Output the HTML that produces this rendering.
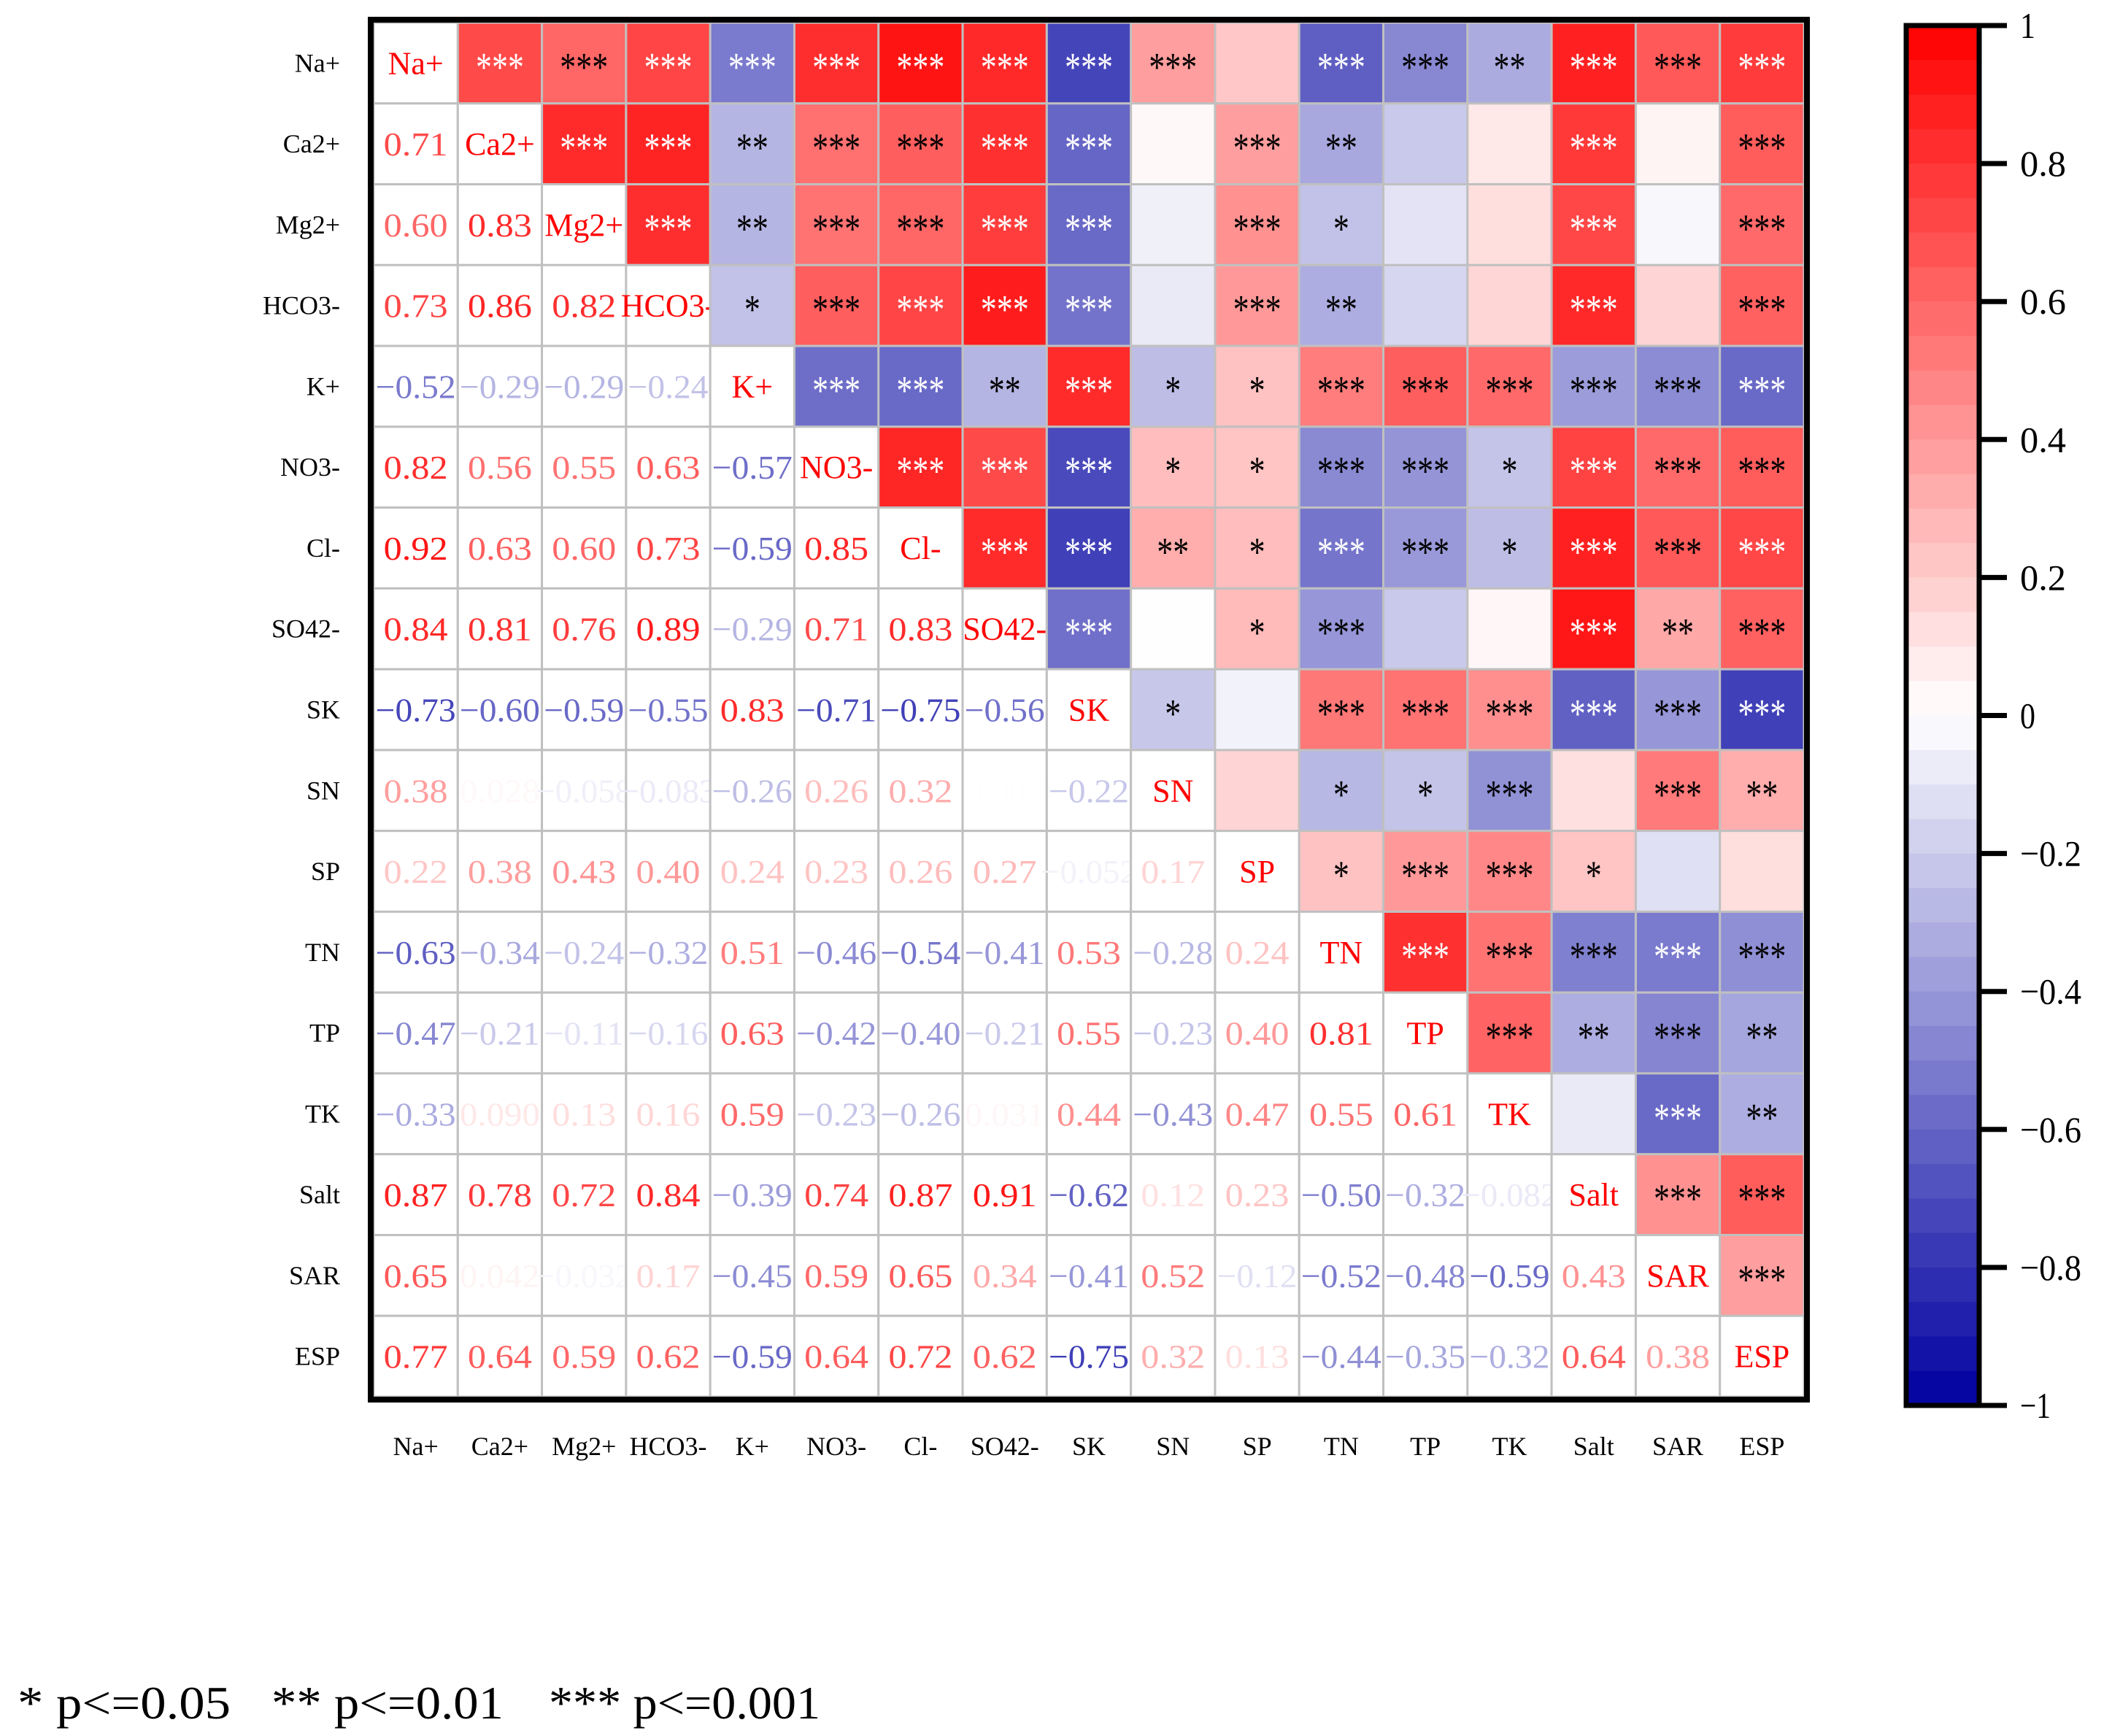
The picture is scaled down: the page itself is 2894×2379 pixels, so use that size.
<!DOCTYPE html>
<html><head><meta charset="utf-8"><style>
html,body{margin:0;padding:0;background:#fff;}
svg{display:block;}
text{font-family:"Liberation Serif","Noto Serif CJK SC",serif;}
</style></head><body>
<svg id="chart" width="2894" height="2379" viewBox="0 0 2894 2379" xmlns="http://www.w3.org/2000/svg">
<g id="cells"></g>
<g id="labels"></g>
<rect x="508" y="27" width="1968" height="1891" fill="none" stroke="#000" stroke-width="8"/>
<g id="cbar"></g>
<g>
<text x="24" y="2355" font-size="64" textLength="292" lengthAdjust="spacingAndGlyphs">* p&lt;=0.05</text>
<text x="372" y="2355" font-size="64" textLength="318" lengthAdjust="spacingAndGlyphs">** p&lt;=0.01</text>
<text x="752" y="2355" font-size="64" textLength="372" lengthAdjust="spacingAndGlyphs">*** p&lt;=0.001</text>
</g>
</svg>
<script>
const categories = ["Na+","Ca2+","Mg2+","HCO3-","K+","NO3-","Cl-","SO42-","SK","SN","SP","TN","TP","TK","Salt","SAR","ESP"];
const lowerValues = [
 [],
 [0.71],
 [0.60,0.83],
 [0.73,0.86,0.82],
 [-0.52,-0.29,-0.29,-0.24],
 [0.82,0.56,0.55,0.63,-0.57],
 [0.92,0.63,0.60,0.73,-0.59,0.85],
 [0.84,0.81,0.76,0.89,-0.29,0.71,0.83],
 [-0.73,-0.60,-0.59,-0.55,0.83,-0.71,-0.75,-0.56],
 [0.38,0.028,-0.058,-0.083,-0.26,0.26,0.32,0.004,-0.22],
 [0.22,0.38,0.43,0.40,0.24,0.23,0.26,0.27,-0.052,0.17],
 [-0.63,-0.34,-0.24,-0.32,0.51,-0.46,-0.54,-0.41,0.53,-0.28,0.24],
 [-0.47,-0.21,-0.11,-0.16,0.63,-0.42,-0.40,-0.21,0.55,-0.23,0.40,0.81],
 [-0.33,0.090,0.13,0.16,0.59,-0.23,-0.26,0.031,0.44,-0.43,0.47,0.55,0.61],
 [0.87,0.78,0.72,0.84,-0.39,0.74,0.87,0.91,-0.62,0.12,0.23,-0.50,-0.32,-0.082],
 [0.65,0.042,-0.032,0.17,-0.45,0.59,0.65,0.34,-0.41,0.52,-0.12,-0.52,-0.48,-0.59,0.43],
 [0.77,0.64,0.59,0.62,-0.59,0.64,0.72,0.62,-0.75,0.32,0.13,-0.44,-0.35,-0.32,0.64,0.38]
];
const upperStars = [
 ["***","***","***","***","***","***","***","***","***","","***","***","**","***","***","***"],
 ["***","***","**","***","***","***","***","","***","**","","","***","","***"],
 ["***","**","***","***","***","***","","***","*","","","***","","***"],
 ["*","***","***","***","***","","***","**","","","***","","***"],
 ["***","***","**","***","*","*","***","***","***","***","***","***"],
 ["***","***","***","*","*","***","***","*","***","***","***"],
 ["***","***","**","*","***","***","*","***","***","***"],
 ["***","","*","***","","","***","**","***"],
 ["*","","***","***","***","***","***","***"],
 ["","*","*","***","","***","**"],
 ["*","***","***","*","",""],
 ["***","***","***","***","***"],
 ["***","**","***","**"],
 ["","***","**"],
 ["***","***"],
 ["***"],
 []
];
const cbarTicks = [1,0.8,0.6,0.4,0.2,0,-0.2,-0.4,-0.6,-0.8,-1];
const cbarTickLabels = ["1","0.8","0.6","0.4","0.2","0","\u22120.2","\u22120.4","\u22120.6","\u22120.8","\u22121"];

const NS="http://www.w3.org/2000/svg";
const X0=512, Y0=31, CW=1960/17, CH=1883/17;
const xPos=j=>X0+j*CW, yPos=i=>Y0+i*CH;
function corr(i,j){ if(i===j) return 1; return i>j ? lowerValues[i][j] : lowerValues[j][i]; }
function color(v){
  let r,g,b;
  if(v>=0){ r=255; g=Math.round(255*(1-v)); b=g; }
  else { const t=-v; r=Math.round(255*(1-t)); g=r; b=Math.round(255-95*t); }
  return `rgb(${r},${g},${b})`;
}
function fmt(v){
  const a=Math.abs(v); const s = a<0.1 ? a.toFixed(3) : a.toFixed(2);
  return (v<0?"\u2212":"")+s;
}
function mk(tag,attrs,parent){const e=document.createElementNS(NS,tag);for(const k in attrs)e.setAttribute(k,attrs[k]);parent.appendChild(e);return e;}
const cells=document.getElementById('cells');
const labels=document.getElementById('labels');
const n=categories.length;
for(let i=0;i<n;i++){
  for(let j=0;j<n;j++){
    const v=corr(i,j);
    const r=mk('rect',{x:xPos(j),y:yPos(i),width:CW,height:CH,fill:(j>i)?color(v):'#fff',stroke:'#c0c0c0','stroke-width':3},cells);
    
    
    const cx=xPos(j)+CW/2, cy=yPos(i)+CH/2;
    if(i===j){
      const t=mk('text',{x:cx,y:cy+15,'text-anchor':'middle','font-size':44,fill:'#ff0000'},cells);
      t.textContent=categories[i];
      
      
    } else if(i>j){
      const s=fmt(v);
      const t=mk('text',{x:cx,y:cy+16,'text-anchor':'middle','font-size':46,fill:color(v),textLength:s.length*22,lengthAdjust:'spacingAndGlyphs'},cells);
      t.textContent=s;
      
      
    } else {
      const st=upperStars[i][j-i-1];
      if(st){
        const white = v>0.68 || v<-0.515;
        const t=mk('text',{x:cx,y:cy+24,'text-anchor':'middle','font-size':56,fill:white?'#fff':'#000',textLength:st.length*22,lengthAdjust:'spacingAndGlyphs'},cells);
        t.textContent=st;
        
        
      }
    }
  }
  const yl=mk('text',{x:466,y:yPos(i)+CH/2+12,'text-anchor':'end','font-size':36},labels);
  yl.textContent=categories[i];
  
  
  const xl=mk('text',{x:xPos(i)+CW/2,y:1994,'text-anchor':'middle','font-size':36},labels);
  xl.textContent=categories[i];
  
  
}
const cb=document.getElementById('cbar');
const CBX=2612, CBW=100, CBT=35, CBB=1926;
const cy=v=>CBT+(1-v)/2*(CBB-CBT);
const steps=40;
for(let k=0;k<steps;k++){
  const v1=1-k*2/steps, v2=1-(k+1)*2/steps;
  const r=mk('rect',{x:CBX,y:cy(v1),width:CBW,height:cy(v2)-cy(v1)+1,fill:color((v1+v2)/2)},cb);
  
  
}
const cbb=mk('rect',{x:CBX,y:CBT,width:CBW,height:CBB-CBT,fill:'none',stroke:'#000','stroke-width':7},cb);


cbarTicks.forEach((v,k)=>{
  const ln=mk('line',{x1:CBX+CBW,x2:CBX+CBW+38,y1:cy(v),y2:cy(v),stroke:'#000','stroke-width':7},cb);
  
  
  const s=cbarTickLabels[k];
  const t=mk('text',{x:2768,y:cy(v)+17,'font-size':50,textLength:s.length*21,lengthAdjust:'spacingAndGlyphs'},cb);
  t.textContent=s;
  
  
});
</script>
</body></html>
